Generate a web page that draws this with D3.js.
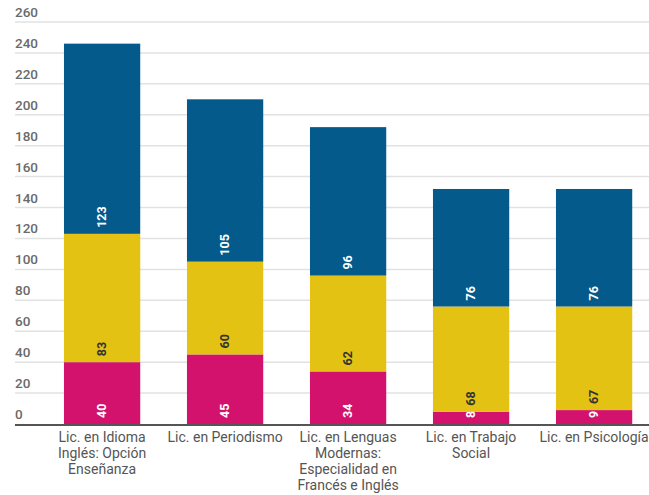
<!DOCTYPE html>
<html>
<head>
<meta charset="utf-8">
<script src="https://cdn.jsdelivr.net/npm/d3@7"></script>
<style>
  body { margin: 0; background: #fff; }
  #chart { width: 649px; height: 495px; }
  text { font-family: Roboto, "Noto Sans", sans-serif; }
</style>
</head>
<body>
<div id="chart"></div>
<script>
var categories = [
    ['Lic. en Idioma', 'Inglés: Opción', 'Enseñanza'],
    ['Lic. en Periodismo'],
    ['Lic. en Lenguas', 'Modernas:', 'Especialidad en', 'Francés e Inglés'],
    ['Lic. en Trabajo', 'Social'],
    ['Lic. en Psicología']
];
var pinkValues = [40, 45, 34, 8, 9];
var yellowValues = [83, 60, 62, 68, 67];
var blueValues = [123, 105, 96, 76, 76];
var yTicks = [0, 20, 40, 60, 80, 100, 120, 140, 160, 180, 200, 220, 240, 260];

var series = [
    { values: pinkValues, color: '#d3126d', text: '#ffffff' },
    { values: yellowValues, color: '#e4c214', text: '#333333' },
    { values: blueValues, color: '#045a8a', text: '#ffffff' }
];

var width = 649, height = 495;

var svg = d3.select('#chart')
    .append('svg')
    .attr('width', width)
    .attr('height', height);

var x_scale = d3.scaleBand()
    .domain(d3.range(categories.length))
    .range([40.6, 655.6])
    .paddingInner(0.38)
    .paddingOuter(0.19);

var y_scale = d3.scaleLinear()
    .domain([0, 260])
    .range([424, 22]);

// grid + tick labels
var grid = svg.append('g');
yTicks.forEach(function (t) {
    if (t > 0) {
        grid.append('line')
            .attr('x1', 15).attr('x2', width)
            .attr('y1', y_scale(t)).attr('y2', y_scale(t))
            .attr('stroke', '#e2e2e2')
            .attr('stroke-width', 1.5);
    }
    grid.append('text')
        .attr('x', 15)
        .attr('y', y_scale(t) - 5)
        .attr('font-size', 13.5)
        .attr('font-weight', 500)
        .attr('fill', '#6a6a6a')
        .text(t);
});

// stacked bars
var bottoms = categories.map(function () { return 0; });
series.forEach(function (s) {
    var g = svg.append('g');
    s.values.forEach(function (v, i) {
        var y0 = bottoms[i], y1 = y0 + v;
        g.append('rect')
            .attr('x', x_scale(i))
            .attr('width', x_scale.bandwidth())
            .attr('y', y_scale(y1))
            .attr('height', y_scale(y0) - y_scale(y1))
            .attr('fill', s.color);
        var cx = x_scale(i) + x_scale.bandwidth() / 2;
        var by = y_scale(y0) - 6;
        g.append('text')
            .attr('transform', 'translate(' + cx + ',' + by + ') rotate(-90)')
            .attr('dy', '0.35em')
            .attr('text-anchor', 'start')
            .attr('font-size', 12.5)
            .attr('font-weight', 'bold')
            .attr('fill', s.text)
            .text(v);
        bottoms[i] = y1;
    });
});

// baseline
svg.append('line')
    .attr('x1', 15).attr('x2', width)
    .attr('y1', y_scale(0) + 1).attr('y2', y_scale(0) + 1)
    .attr('stroke', '#555')
    .attr('stroke-width', 2);

// category labels
categories.forEach(function (lines, i) {
    var t = svg.append('text')
        .attr('x', x_scale(i) + x_scale.bandwidth() / 2)
        .attr('y', 442)
        .attr('text-anchor', 'middle')
        .attr('font-size', 14)
        .attr('fill', '#555');
    lines.forEach(function (l, j) {
        t.append('tspan')
            .attr('x', x_scale(i) + x_scale.bandwidth() / 2)
            .attr('dy', j === 0 ? 0 : 16)
            .text(l);
    });
});
</script>
</body>
</html>
